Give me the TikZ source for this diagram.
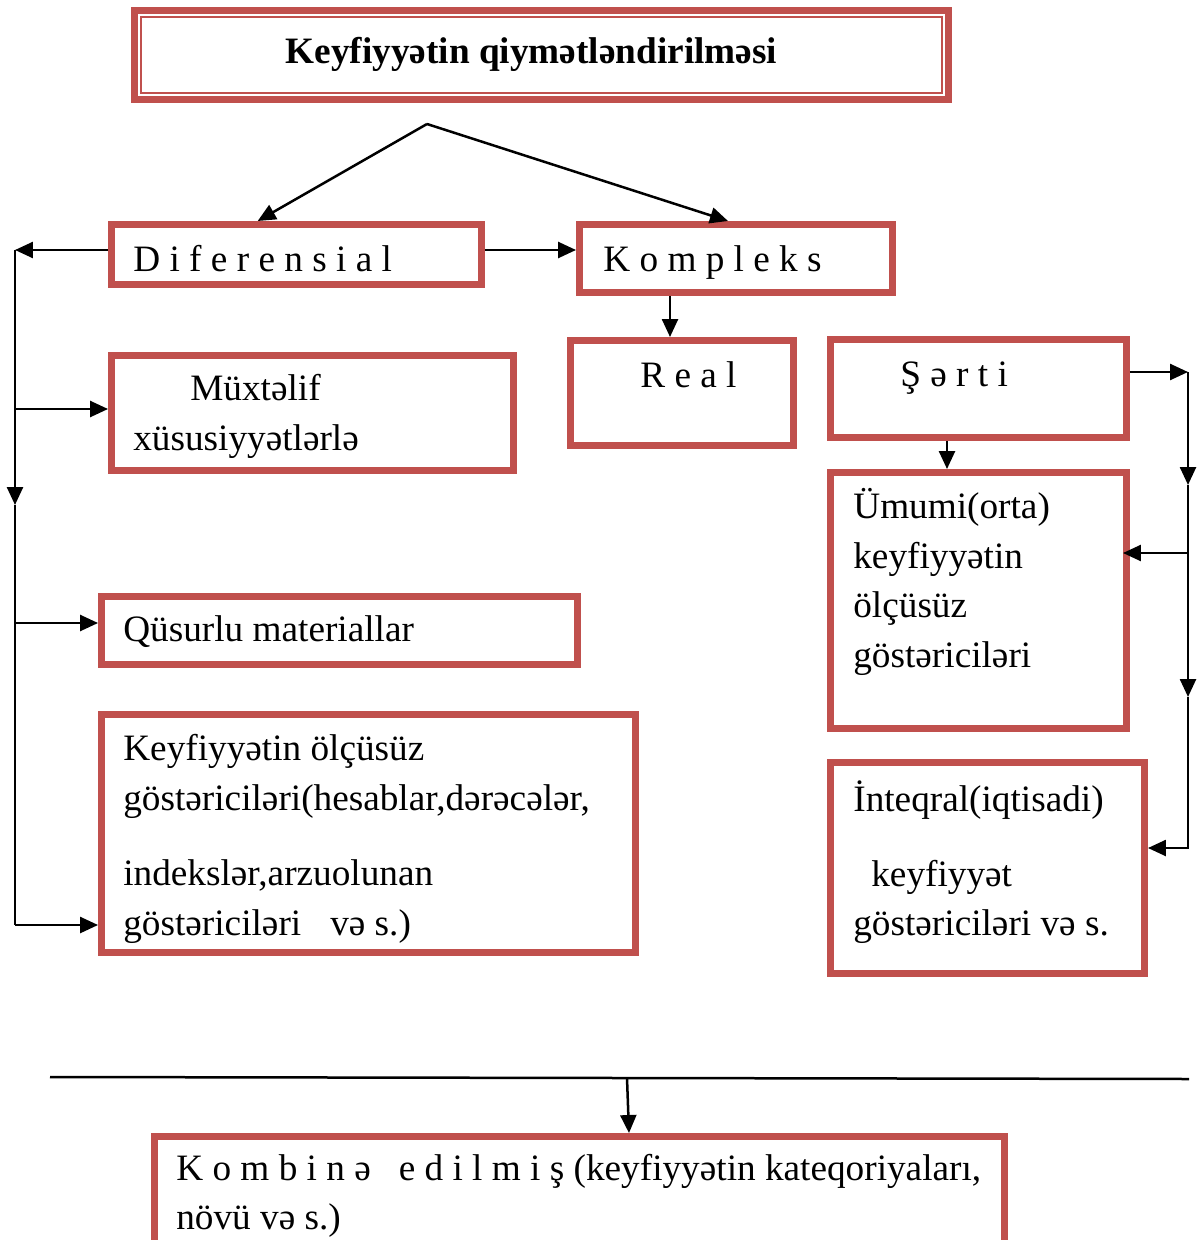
\documentclass[tikz,border=0pt]{standalone}
\usepackage{fontspec}
\setmainfont{Liberation Serif}
\usetikzlibrary{arrows.meta,calc}
\definecolor{boxred}{RGB}{192,80,77}
\newcommand\fsz{\fontsize{21.2}{28.45}\selectfont}
\begin{document}
\begin{tikzpicture}[x=0.02cm,y=-0.02cm,
  box/.style={draw=boxred, line width=0.14cm, rectangle, inner sep=0pt},
  thinbox/.style={draw=boxred, line width=0.05cm, rectangle, inner sep=0pt},
  txt/.style={anchor=base west, inner sep=0pt, font=\fsz},
  ln/.style={line width=0.05cm},
  arr/.style={line width=0.05cm, -{Triangle[length=0.36cm,width=0.32cm]}}]
\clip (0,0) rectangle (1200,1240);
\fill[white] (0,0) rectangle (1200,1240);

% title
\node[box, minimum width=16.3cm, minimum height=1.8cm] (title) at (541.5,55) {};
\node[thinbox, minimum width=16.02cm, minimum height=1.52cm] (titlein) at (541.5,55) {};
\node[anchor=base, inner sep=0pt, font=\fsz\bfseries] (ttitle) at (531.5,64) {Keyfiyyətin qiymətləndirilməsi};

% boxes
\node[box, minimum width=7.4cm, minimum height=1.2cm] (dif) at (296.5,254.5) {};
\node[box, minimum width=6.26cm, minimum height=1.36cm] (kom) at (736,258.5) {};
\node[box, minimum width=8.04cm, minimum height=2.3cm] (mux) at (312.5,413) {};
\node[box, minimum width=4.46cm, minimum height=2.1cm] (real) at (682,393) {};
\node[box, minimum width=5.92cm, minimum height=1.96cm] (sert) at (978.5,388.5) {};
\node[box, minimum width=5.92cm, minimum height=5.12cm] (umumi) at (978.5,600.5) {};
\node[box, minimum width=9.52cm, minimum height=1.36cm] (qus) at (339.5,630.5) {};
\node[box, minimum width=10.68cm, minimum height=4.76cm] (keyf) at (368.5,833.5) {};
\node[box, minimum width=6.28cm, minimum height=4.22cm] (integ) at (987.5,868) {};
\node[box, minimum width=17.0cm, minimum height=3.0cm] (komb) at (579.5,1211.5) {};

% texts
\node[txt] (tdif) at (133,271) {D i f e r e n s i a l};
\node[txt] (tkom) at (603,271) {K o m p l e k s};
\node[txt] (tmux1) at (190,400) {Müxtəlif};
\node[txt] (tmux2) at (133,450) {xüsusiyyətlərlə};
\node[txt] (treal) at (640,387) {R e a l};
\node[txt] (tsert) at (900,386) {Ş ə r t i};
\node[txt] (tum1) at (853,518) {Ümumi(orta)};
\node[txt] (tum2) at (853,568) {keyfiyyətin};
\node[txt] (tum3) at (853,617) {ölçüsüz};
\node[txt] (tum4) at (853,667) {göstəriciləri};
\node[txt] (tqus) at (123,641) {Qüsurlu materiallar};
\node[txt] (tk1) at (123,760) {Keyfiyyətin ölçüsüz};
\node[txt] (tk2) at (123,810) {göstəriciləri(hesablar,dərəcələr,};
\node[txt] (tk3) at (123,885) {indekslər,arzuolunan};
\node[txt] (tk4) at (123,935) {göstəriciləri\hspace{0.58cm}və s.)};
\node[txt] (tin1) at (853,811) {İnteqral(iqtisadi)};
\node[txt] (tin2) at (871,886) {keyfiyyət};
\node[txt] (tin3) at (853,935) {göstəriciləri və s.};
\node[txt] (tkb1) at (176,1180) {K o m b i n ə \ \ e d i l m i ş (keyfiyyətin kateqoriyaları,};
\node[txt] (tkb2) at (176,1229) {növü və s.)};

% top connectors
\coordinate (apex) at (427,124);
\draw[arr] (apex) -- ($(dif.north west)!0.397!(dif.north east)$);
\draw[arr] (apex) -- ($(kom.north west)!0.475!(kom.north east)$);

% left branch
\coordinate (lt) at (15,250);
\coordinate (lm) at (15,505);
\coordinate (lb) at (15,925);
\coordinate (a1) at (15,409);
\coordinate (a2) at (15,623);
\draw[arr] (dif.west |- lt) -- (lt);
\draw[arr] (lt) -- (lm);
\draw[ln] (lm) -- (lb);
\draw[arr] (a1) -- (a1 -| mux.west);
\draw[arr] (a2) -- (a2 -| qus.west);
\draw[arr] (lb) -- (lb -| keyf.west);

% middle
\draw[arr] (dif.east |- lt) -- (kom.west |- lt);
\coordinate (kx) at (670,300);
\draw[arr] (kom.south -| kx) -- (real.north -| kx);
\coordinate (sx) at (947,450);
\draw[arr] (sert.south -| sx) -- (umumi.north -| sx);

% right branch
\coordinate (r1) at (1188,372);
\coordinate (r2) at (1188,485);
\coordinate (r3) at (1188,553);
\coordinate (r4) at (1188,697);
\coordinate (r5) at (1188,848);
\draw[arr] (sert.east |- r1) -- (r1);
\draw[arr] (r1) -- (r2);
\draw[arr] (r2) -- (r4);
\draw[arr, shorten >=-0.14cm] (r3) -- (r3 -| umumi.east);
\draw[arr] (r4) -- (r5) -- (r5 -| integ.east);

% bottom
\coordinate (bl) at (50,1077);
\coordinate (br) at (1189,1079);
\coordinate (bm) at (627,1078);
\coordinate (bk) at (629,1100);
\draw[ln] (bl) -- (br);
\draw[arr] (bm) -- (komb.north -| bk);
\end{tikzpicture}
\end{document}
